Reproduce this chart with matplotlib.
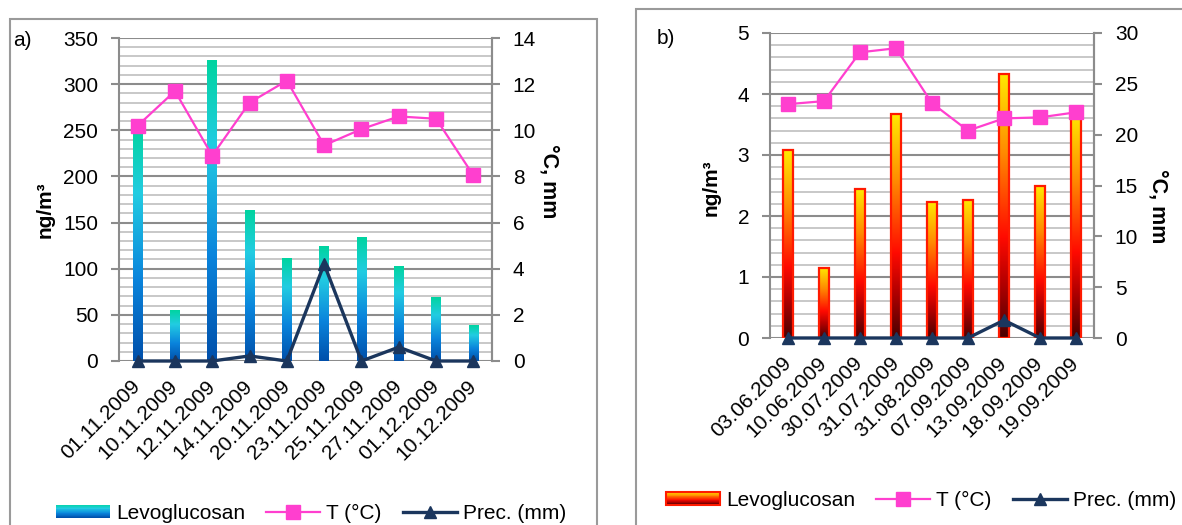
import numpy as np
import matplotlib
matplotlib.use("Agg")
import matplotlib.pyplot as plt
from matplotlib.colors import LinearSegmentedColormap
from matplotlib.patches import Rectangle
from matplotlib.lines import Line2D
from matplotlib.legend_handler import HandlerBase
from matplotlib.ticker import MultipleLocator

plt.rcParams['font.family'] = ['Liberation Sans', 'DejaVu Sans']

# ---- data -------------------------------------------------------------
dates_a = ["01.11.2009", "10.11.2009", "12.11.2009", "14.11.2009", "20.11.2009",
           "23.11.2009", "25.11.2009", "27.11.2009", "01.12.2009", "10.12.2009"]
levo_a = [252, 55, 326, 163, 111, 124, 134, 102, 69, 39]
temp_a = [10.2, 11.7, 8.9, 11.2, 12.15, 9.35, 10.05, 10.6, 10.5, 8.05]
prec_a = [0, 0, 0, 0.22, 0, 4.2, 0, 0.6, 0, 0]

dates_b = ["03.06.2009", "10.06.2009", "30.07.2009", "31.07.2009", "31.08.2009",
           "07.09.2009", "13.09.2009", "18.09.2009", "19.09.2009"]
levo_b = [3.08, 1.15, 2.45, 3.67, 2.23, 2.27, 4.33, 2.50, 3.70]
temp_b = [23.0, 23.3, 28.1, 28.5, 23.1, 20.4, 21.6, 21.7, 22.2]
prec_b = [0, 0, 0, 0, 0, 0, 1.75, 0, 0]

# ---- styles -----------------------------------------------------------
FS = 15
T_COLOR = "#FF3FCF"
P_COLOR = "#1B365D"
MAJOR_GRID = "#8C8C8C"
MINOR_GRID = "#C4C4C4"
SPINE = "#8C8C8C"

cmap_blue = LinearSegmentedColormap.from_list(
    "levo_blue", [(0.0, "#004FAA"), (0.35, "#0A84DC"), (0.72, "#22CCE2"), (1.0, "#00D4A0")])
cmap_fire = LinearSegmentedColormap.from_list(
    "levo_fire", [(0.0, "#4A0000"), (0.2, "#B00000"), (0.38, "#FF0A00"),
                  (0.7, "#FF8A00"), (1.0, "#FFEA00")])


class GradientHandler(HandlerBase):
    """Legend key drawn as a vertical colour gradient."""

    def __init__(self, cmap, edge=None):
        super().__init__()
        self.cmap = cmap
        self.edge = edge

    def create_artists(self, legend, orig_handle, xdescent, ydescent,
                       width, height, fontsize, trans):
        n = 30
        arts = []
        for i in range(n):
            r = Rectangle((-xdescent, -ydescent + height * i / n), width,
                          height / n * 1.05, facecolor=self.cmap((i + 0.5) / n),
                          edgecolor="none", transform=trans)
            arts.append(r)
        if self.edge:
            arts.append(Rectangle((-xdescent, -ydescent), width, height,
                                  facecolor="none", edgecolor=self.edge,
                                  lw=1.5, transform=trans))
        return arts


def panel(fig, rect, cats, levo, temp, prec, ymax, ymajor, yminor, y2max,
          y2major, cmap, bar_width, bar_edge, ylabel_xy, y2label_xy):
    ax = fig.add_axes(rect)
    n = len(cats)
    x = np.arange(n)

    bars = ax.bar(x, levo, width=bar_width, facecolor="none",
                  edgecolor=bar_edge if bar_edge else "none",
                  linewidth=1.6 if bar_edge else 0, zorder=4)
    grad = np.linspace(0, 1, 256).reshape(-1, 1)
    for b in bars:
        bx, by = b.get_xy()
        ax.imshow(grad, extent=[bx, bx + b.get_width(), by, by + b.get_height()],
                  origin="lower", aspect="auto", cmap=cmap, zorder=3,
                  interpolation="bilinear")

    ax.set_xlim(-0.5, n - 0.5)
    ax.set_ylim(0, ymax)
    ax.yaxis.set_major_locator(MultipleLocator(ymajor))
    ax.yaxis.set_minor_locator(MultipleLocator(yminor))
    ax.grid(True, which="major", axis="y", color=MAJOR_GRID, lw=1.5, zorder=1)
    ax.grid(True, which="minor", axis="y", color=MINOR_GRID, lw=1.3, zorder=1)
    ax.set_axisbelow(True)
    for s in ("top", "bottom"):
        ax.spines[s].set_visible(False)
    for s in ("left", "right"):
        ax.spines[s].set_color(SPINE)
        ax.spines[s].set_linewidth(1.5)
    ax.tick_params(axis="y", which="major", direction="out", length=6, width=1.5,
                   color=SPINE, labelsize=FS, pad=9)
    ax.tick_params(axis="y", which="minor", length=0)
    ax.set_xticks(x)
    ax.set_xticklabels(cats, rotation=45, ha="right", va="center",
                       rotation_mode="anchor", fontsize=FS)
    ax.tick_params(axis="x", length=0, pad=16)
    ax.set_ylabel("ng/m³", fontsize=FS, fontweight="bold")
    ax.yaxis.set_label_coords(*ylabel_xy)

    ax2 = ax.twinx()
    ax2.set_ylim(0, y2max)
    ax2.yaxis.set_major_locator(MultipleLocator(y2major))
    for s in ("top", "bottom", "left"):
        ax2.spines[s].set_visible(False)
    ax2.spines["right"].set_color(SPINE)
    ax2.spines["right"].set_linewidth(1.5)
    ax2.tick_params(axis="y", direction="out", length=6, width=1.5, color=SPINE,
                    labelsize=FS, pad=9)
    ax2.plot(x, temp, color=T_COLOR, lw=1.6, marker="s", markersize=10,
             zorder=5, clip_on=False)
    ax2.plot(x, prec, color=P_COLOR, lw=2.4, marker="^", markersize=8.5,
             zorder=6, clip_on=False)
    ax2.set_ylabel("°C, mm", fontsize=FS + 0.5, fontweight="bold", rotation=270)
    ax2.yaxis.set_label_coords(*y2label_xy)
    return ax, ax2


W, H = 1182, 525
fig = plt.figure(figsize=(W / 100, H / 100), dpi=100)


def frac_rect(left, top, right, bottom):
    return [left / W, 1 - bottom / H, (right - left) / W, (bottom - top) / H]


# outer frames of the two panels
fig.add_artist(Rectangle((10 / W, -0.05), (597 - 10) / W, 1.05 - 19 / H,
                         transform=fig.transFigure, facecolor="none",
                         edgecolor="#9A9A9A", lw=1.5))
fig.add_artist(Rectangle((636 / W, -0.05), 0.5, 1.05 - 9 / H,
                         transform=fig.transFigure, facecolor="none",
                         edgecolor="#9A9A9A", lw=1.5))

panel(fig, frac_rect(119, 38, 492, 361), dates_a, levo_a, temp_a, prec_a,
      350, 50, 10, 14, 2, cmap_blue, 0.26, None, (-0.172, 0.467), (1.18, 0.557))
panel(fig, frac_rect(770, 33, 1094, 338), dates_b, levo_b, temp_b, prec_b,
      5, 1, 0.2, 30, 5, cmap_fire, 0.3, "#FF1A00", (-0.151, 0.492), (1.23, 0.433))

fig.text(13 / W, 1 - 40 / H, "a)", fontsize=FS, va="center", ha="left")
fig.text(657 / W, 1 - 38 / H, "b)", fontsize=FS, va="center", ha="left")

# legends
for cmap, edge, cx, cy in ((cmap_blue, None, 311, 513), (cmap_fire, "#FF1A00", 921, 500)):
    levo_handle = Rectangle((0, 0), 1, 1)
    t_handle = Line2D([], [], color=T_COLOR, lw=1.6, marker="s", markersize=10)
    p_handle = Line2D([], [], color=P_COLOR, lw=2.4, marker="^", markersize=8.5)
    fig.legend([levo_handle, t_handle, p_handle],
               ["Levoglucosan", "T (°C)", "Prec. (mm)"],
               handler_map={levo_handle: GradientHandler(cmap, edge)},
               loc="center", bbox_to_anchor=(cx / W, 1 - cy / H), ncol=3,
               frameon=False, fontsize=FS, handlelength=2.6,
               handleheight=0.6, handletextpad=0.3, columnspacing=1.0,
               borderpad=0, borderaxespad=0)

fig.savefig("out.png", dpi=100)
